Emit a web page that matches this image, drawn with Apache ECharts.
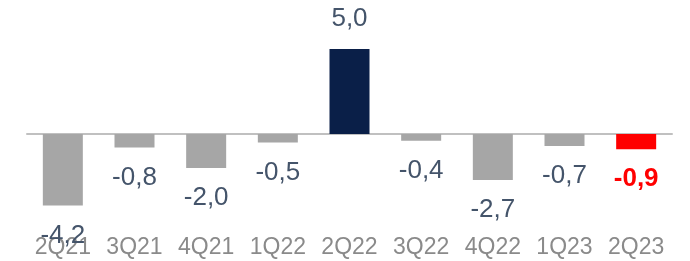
<!DOCTYPE html>
<html>
<head>
    <meta charset="utf-8">
    <title>Quarterly change</title>
    <style>
        body{ margin: 0; padding: 0; }
        #container{ width: 690px; height: 261px; }
    </style>
</head>
<body>
    <div id="container"></div>
    <script src="https://cdn.jsdelivr.net/npm/echarts@6/dist/echarts.min.js"></script>
    <script type="text/javascript">
    // chart data
    var quarters = ['2Q21', '3Q21', '4Q21', '1Q22', '2Q22', '3Q22', '4Q22', '1Q23', '2Q23'];
    var values = [-4.2, -0.8, -2.0, -0.5, 5.0, -0.4, -2.7, -0.7, -0.9];
    var highlightIndex = 4;   // dark bar
    var latestIndex = 8;      // red bar

    var font = '"Liberation Sans", Arial, sans-serif';

    // build the bar items, colour and label per bar
    var barData = values.map(function (v, i) {
        var color = '#a6a6a6';
        var label = { color: '#44546a', fontWeight: 'normal' };
        if (i === highlightIndex) color = '#0a1f48';
        if (i === latestIndex) {
            color = '#ff0000';
            label = { color: '#ff0000', fontWeight: 'bold' };
        }
        label.position = v >= 0 ? 'top' : 'bottom';
        return { value: v, itemStyle: { color: color }, label: label };
    });

    var myChart = echarts.init(document.getElementById('container'));

    var option = {
        animation: false,
        grid: { left: 27, right: 18, top: 49, bottom: 42 },
        xAxis: [{
            // zero line
            type: 'category',
            data: quarters,
            axisLine: { onZero: true, lineStyle: { color: '#c0c0c0', width: 2 } },
            axisTick: { show: false },
            axisLabel: { show: false }
        }, {
            // labels along the bottom
            type: 'category',
            data: quarters,
            position: 'bottom',
            axisLine: { show: false, onZero: false },
            axisTick: { show: false },
            axisLabel: { color: '#8a8a8a', fontSize: 23, fontFamily: font, margin: 17, interval: 0 }
        }],
        yAxis: {
            type: 'value',
            min: -5,
            max: 5,
            show: false,
            splitLine: { show: false }
        },
        series: [{
            type: 'bar',
            data: barData,
            barWidth: 40,
            label: {
                show: true,
                fontSize: 26,
                fontFamily: font,
                distance: 17,
                formatter: function (p) {
                    return p.value.toFixed(1).replace('.', ',');
                }
            }
        }]
    };

    myChart.setOption(option);
    </script>
</body>
</html>
